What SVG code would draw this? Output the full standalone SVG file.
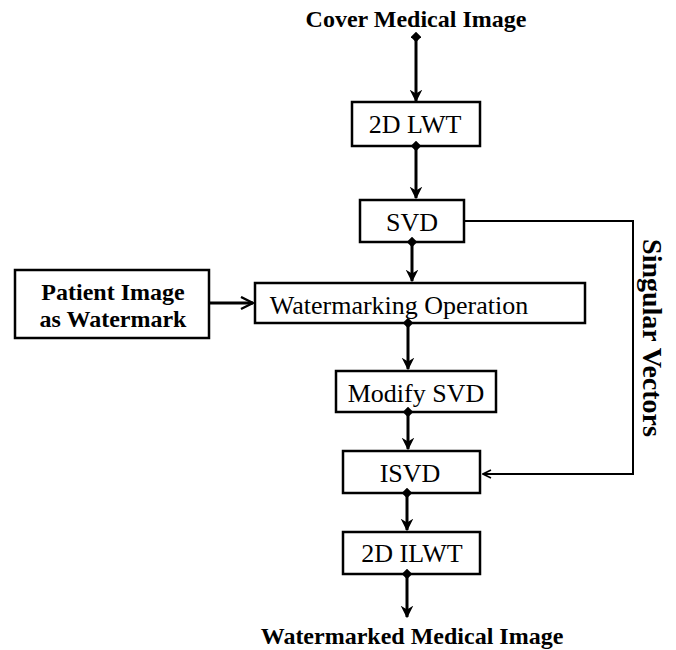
<svg xmlns="http://www.w3.org/2000/svg" width="676" height="650" viewBox="0 0 676 650">
<defs>
<marker id="arr" viewBox="0 0 10 10" refX="9" refY="5" markerWidth="4.2" markerHeight="5" orient="auto" markerUnits="strokeWidth">
<path d="M0,0 L10,5 L0,10 L3,5 Z" fill="#000"/>
</marker>
<marker id="open" viewBox="0 0 10 10" refX="9" refY="5" markerWidth="5" markerHeight="5" orient="auto" markerUnits="strokeWidth">
<path d="M1,1 L9,5 L1,9" fill="none" stroke="#000" stroke-width="1.6"/>
</marker>
<marker id="dia" viewBox="0 0 10 10" refX="5" refY="5" markerWidth="3.5" markerHeight="3.5" orient="auto" markerUnits="strokeWidth">
<path d="M5,0 L10,5 L5,10 L0,5 Z" fill="#000"/>
</marker>
</defs>
<style>
.box{fill:#fff;stroke:#000;stroke-width:2.5}
.t{font-size:26px;fill:#000;text-anchor:middle}
.b{font-size:24px;font-weight:bold;fill:#000;text-anchor:middle}
.sv{font-size:28px;font-weight:bold;fill:#000;text-anchor:middle}
.c{fill:none;stroke:#000;stroke-width:3}
.thin{fill:none;stroke:#000;stroke-width:2}
</style>
<g font-family="Liberation Serif, Times New Roman, serif">
<g id="cover"><text class="b" x="416" y="27">Cover Medical Image</text></g>
<g id="lwt"><rect class="box" x="352" y="102" width="128" height="44"/><text class="t" x="415" y="133">2D LWT</text></g>
<g id="svd"><rect class="box" x="360" y="200" width="104" height="42"/><text class="t" x="412" y="231">SVD</text></g>
<g id="patient"><rect class="box" x="15" y="270" width="194" height="68"/><text class="b" x="113" y="300">Patient Image</text><text class="b" x="113" y="327">as Watermark</text></g>
<g id="wm"><rect class="box" x="255" y="283" width="330" height="40"/><text class="t" x="399" y="314">Watermarking Operation</text></g>
<g id="modify"><rect class="box" x="336" y="371" width="160" height="41"/><text class="t" x="416" y="402">Modify SVD</text></g>
<g id="isvd"><rect class="box" x="343" y="451" width="137" height="42"/><text class="t" x="410" y="482">ISVD</text></g>
<g id="ilwt"><rect class="box" x="343" y="532" width="137" height="42"/><text class="t" x="412" y="562">2D ILWT</text></g>
<g id="out"><text class="b" x="412" y="644">Watermarked Medical Image</text></g>
<g id="sv"><text class="sv" transform="translate(643,338) rotate(90)" x="0" y="0">Singular Vectors</text></g>
</g>
<g id="connectors">
<line class="c" x1="416" y1="37" x2="416" y2="101" marker-start="url(#dia)" marker-end="url(#arr)"/>
<line class="c" x1="416" y1="146" x2="416" y2="198" marker-start="url(#dia)" marker-end="url(#arr)"/>
<line class="c" x1="412" y1="242" x2="412" y2="281" marker-start="url(#dia)" marker-end="url(#arr)"/>
<line class="c" x1="408" y1="323" x2="408" y2="369" marker-start="url(#dia)" marker-end="url(#arr)"/>
<line class="c" x1="408" y1="412" x2="408" y2="449" marker-start="url(#dia)" marker-end="url(#arr)"/>
<line class="c" x1="407" y1="493" x2="407" y2="530" marker-start="url(#dia)" marker-end="url(#arr)"/>
<line class="c" x1="407" y1="574" x2="407" y2="617" marker-start="url(#dia)" marker-end="url(#arr)"/>
<line class="c" x1="209" y1="303" x2="253" y2="303" marker-end="url(#open)"/>
<polyline class="thin" points="465,221 633,221 633,474 483,474" marker-end="url(#open)"/>
</g>
</svg>
